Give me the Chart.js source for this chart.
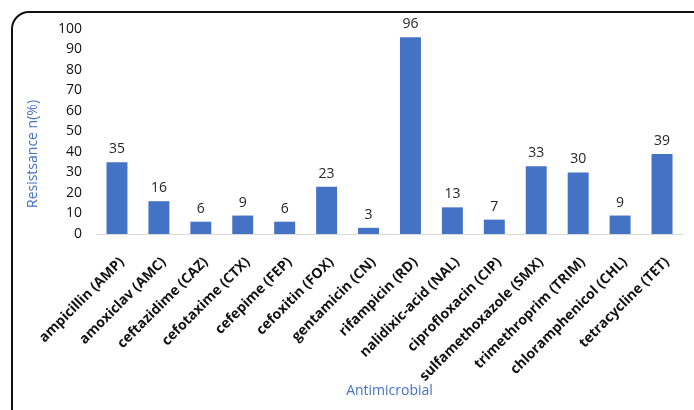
<!DOCTYPE html>
<html>
<head>
<meta charset="utf-8">
<script src="https://cdn.jsdelivr.net/npm/chart.js@4/dist/chart.umd.min.js"></script>
<style>
  html, body { margin: 0; padding: 0; background: #fff; overflow: hidden; }
  #wrap { position: relative; width: 694px; height: 410px; }
  #frame {
    position: absolute; left: 11px; top: 11px; width: 700px; height: 420px;
    border: 2px solid #111; border-radius: 18px; box-sizing: border-box; pointer-events: none;
  }
  canvas { position: absolute; left: 0; top: 0; }
</style>
</head>
<body>
<div id="wrap">
  <canvas id="c" width="694" height="410"></canvas>
  <div id="frame"></div>
</div>
<script>
const categories = [
  'ampicillin (AMP)', 'amoxiclav (AMC)', 'ceftazidime (CAZ)', 'cefotaxime (CTX)',
  'cefepime (FEP)', 'cefoxitin (FOX)', 'gentamicin (CN)', 'rifampicin (RD)',
  'nalidixic-acid (NAL)', 'ciprofloxacin (CIP)', 'sulfamethoxazole (SMX)',
  'trimethroprim (TRIM)', 'chloramphenicol (CHL)', 'tetracycline (TET)'
];
const resistance = [35, 16, 6, 9, 6, 23, 3, 96, 13, 7, 33, 30, 9, 39];
const yTicks = [0, 10, 20, 30, 40, 50, 60, 70, 80, 90, 100];
const yTitle = 'Resistsance n(%)';
const xTitle = 'Antimicrobial';

const BLUE = '#4472C4';
const FONT = "'Open Sans', 'Liberation Sans', sans-serif";

// Value labels above each bar, placed from the bar elements
const valueLabels = {
  id: 'valueLabels',
  afterDatasetsDraw(chart) {
    const ctx = chart.ctx;
    const meta = chart.getDatasetMeta(0);
    ctx.save();
    ctx.font = '14px ' + FONT;
    ctx.fillStyle = '#262626';
    ctx.textAlign = 'center';
    ctx.textBaseline = 'bottom';
    meta.data.forEach((bar, i) => {
      ctx.fillText(String(chart.data.datasets[0].data[i]), bar.x, bar.y - 6);
    });
    ctx.restore();
  }
};

// Rotated vertical axis title
const yAxisTitle = {
  id: 'yAxisTitle',
  afterDraw(chart) {
    const ctx = chart.ctx;
    const area = chart.chartArea;
    ctx.save();
    ctx.translate(33, area.bottom - 80);
    ctx.rotate(-Math.PI / 2);
    ctx.font = '14px ' + FONT;
    ctx.fillStyle = BLUE;
    ctx.textAlign = 'center';
    ctx.textBaseline = 'middle';
    ctx.fillText(yTitle, 0, 0);
    ctx.restore();
  }
};

new Chart(document.getElementById('c'), {
  type: 'bar',
  data: {
    labels: categories,
    datasets: [{
      data: resistance,
      backgroundColor: BLUE,
      borderWidth: 0,
      categoryPercentage: 1.0,
      barPercentage: 0.5
    }]
  },
  options: {
    responsive: false,
    animation: false,
    devicePixelRatio: 1,
    layout: { padding: { left: 44, right: 3, top: 29, bottom: 11 } },
    plugins: { legend: { display: false }, tooltip: { enabled: false } },
    scales: {
      x: {
        afterFit(scale) { scale.height = 165; },
        grid: { display: false, drawTicks: false },
        border: { display: true, color: '#d9d9d9', width: 1 },
        ticks: {
          minRotation: 45, maxRotation: 45, autoSkip: false, padding: 20, labelOffset: 5,
          color: '#111', font: { family: FONT, size: 14, weight: 'bold' }
        },
        title: {
          display: true, text: xTitle, color: BLUE,
          font: { family: FONT, size: 14 }, padding: { top: 6, bottom: 0 }
        }
      },
      y: {
        min: 0, max: 100,
        afterBuildTicks(scale) { scale.ticks = yTicks.map(v => ({ value: v })); },
        grid: { display: false, drawTicks: false },
        border: { display: false },
        ticks: {
          padding: 14, color: '#111',
          font: { family: FONT, size: 14 }
        }
      }
    }
  },
  plugins: [valueLabels, yAxisTitle]
});
</script>
</body>
</html>
